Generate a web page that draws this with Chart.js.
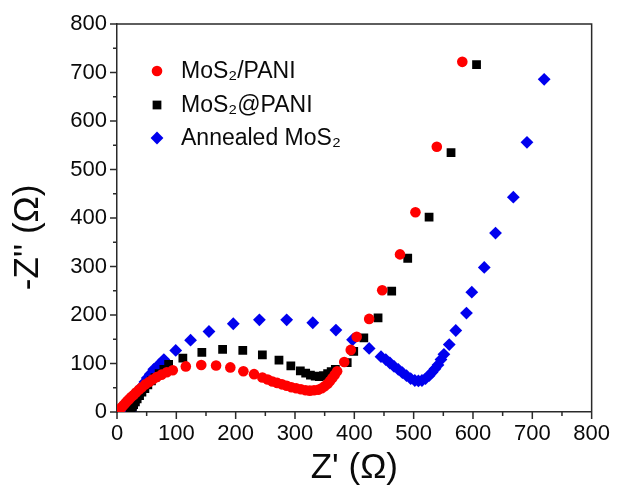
<!DOCTYPE html>
<html><head><meta charset="utf-8">
<script src="https://cdn.jsdelivr.net/npm/chart.js@4.4.0/dist/chart.umd.min.js"></script>
<style>html,body{margin:0;padding:0;background:#fff;}#wrap{width:619px;height:493px;}</style>
</head><body><div id="wrap"><canvas id="c" width="619" height="493"></canvas></div>
<script>
// ---- data (Z' in ohm, -Z'' in ohm) ----
const seriesNames = ['MoS\u2082/PANI', 'MoS\u2082@PANI', 'Annealed MoS\u2082'];

const panelX = [2,5,8,11,14,17,20,24,28,32,37,42,48,54,60,67,75,84,94,116,142,167,191,213,231,245,254,262,270,278,286,294,302,310,318,325,332,339,345,350,355,359,363,367,371,383,394,404,425,447,477,503,539,582];
const panelY = [2,6,10,14,18,22,26,31,35,40,46,51,57,62,67,72,77,82,86,94,97,96,92,84,78,71,67,63,60,57,54,51,49,47,45,44,45,46,49,53,58,64,70,77,84,103,128,155,192,251,325,412,547,722];

const atPaniX = [22,24,26,28,31,34,38,42,47,52,58,64,71,79,87,111,143,178,212,245,273,293,309,318,326,334,341,348,355,361,368,388,399,416,440,463,490,526,563,606];
const atPaniY = [1,5,10,15,21,27,34,41,48,56,64,71,79,88,98,111,123,129,127,118,107,95,85,80,76,74,73,75,79,83,88,102,125,153,194,249,317,402,535,716];

const annealX = [22,24,26,28,30,33,36,39,43,47,51,56,62,70,79,99,124,155,196,240,286,330,369,397,425,445,453,460,467,474,481,488,495,502,508,514,520,526,531,536,541,546,551,560,571,589,598,619,638,668,691,720];
const annealY = [1,7,13,19,25,32,39,46,54,62,70,78,88,97,108,127,148,166,182,190,190,184,169,149,131,114,108,101,94,88,81,75,69,65,64,65,69,75,82,89,97,108,119,139,168,204,247,298,369,443,556,686];

const xMin = 0, xMax = 800, yMin = 0, yMax = 800;
const majorStep = 100, minorStep = 50;

const colors = ['rgb(255,0,0)', 'rgb(0,0,0)', 'rgb(0,0,238)'];
const styles = ['circle', 'rect', 'rectRot'];
const radii = [5.3, 6.2, 6.4];

function pts(xs, ys) { return xs.map((x, i) => ({x: x, y: ys[i]})); }
const seriesPts = [pts(panelX, panelY), pts(atPaniX, atPaniY), pts(annealX, annealY)];

const FONT = "'Liberation Sans', Arial, Helvetica, sans-serif";
const AXIS = '#2a2a2a';
const TXT = '#0a0a0a';

const extras = {
  id: 'extras',
  afterDraw(chart) {
    const ctx = chart.ctx, a = chart.chartArea;
    const xs = chart.scales.x, ys = chart.scales.y;
    ctx.save();
    ctx.strokeStyle = AXIS;
    ctx.lineWidth = 1.5;
    ctx.beginPath();
    ctx.moveTo(a.left, a.top); ctx.lineTo(a.right, a.top); ctx.lineTo(a.right, a.bottom);
    ctx.stroke();
    ctx.beginPath();
    for (let v = xMin; v <= xMax; v += minorStep) {
      const len = v % majorStep === 0 ? 7 : 4;
      const px = xs.getPixelForValue(v);
      ctx.moveTo(px, a.bottom); ctx.lineTo(px, a.bottom + len);
    }
    for (let v = yMin; v <= yMax; v += minorStep) {
      const len = v % majorStep === 0 ? 7 : 4;
      const py = ys.getPixelForValue(v);
      ctx.moveTo(a.left, py); ctx.lineTo(a.left - len, py);
    }
    ctx.stroke();
    const lx = 157, tx = 181, rows = [71, 105, 138];
    chart.data.datasets.forEach((ds, i) => {
      ctx.fillStyle = ds.pointBackgroundColor;
      Chart.helpers.drawPoint(ctx, {pointStyle: ds.pointStyle, radius: ds.pointRadius, rotation: 0, borderWidth: 0}, lx, rows[i]);
      ctx.fillStyle = TXT;
      ctx.font = '23px ' + FONT;
      ctx.textBaseline = 'middle';
      ctx.textAlign = 'left';
      ctx.fillText(ds.label, tx, rows[i] + 1);
    });
    ctx.restore();
  }
};

new Chart(document.getElementById('c'), {
  type: 'scatter',
  data: {
    datasets: seriesNames.map((n, i) => ({
      label: n,
      data: seriesPts[i],
      pointStyle: styles[i],
      pointRadius: radii[i],
      pointHoverRadius: radii[i],
      pointBackgroundColor: colors[i],
      pointBorderWidth: 0,
      borderColor: colors[i],
      showLine: false
    }))
  },
  options: {
    responsive: false,
    devicePixelRatio: 1,
    animation: false,
    layout: {padding: {left: 0, top: 24, right: 25, bottom: 0}},
    plugins: {legend: {display: false}, tooltip: {enabled: false}},
    scales: {
      x: {
        type: 'linear', min: xMin, max: xMax,
        afterFit(s) { s.height = 81; },
        grid: {display: false, drawTicks: false},
        border: {display: true, color: AXIS, width: 1.5},
        ticks: {stepSize: majorStep, autoSkip: false, maxRotation: 0, padding: 9, color: TXT,
                font: {family: FONT, size: 22}},
        title: {display: true, text: "Z' (\u03A9)", color: TXT, font: {family: FONT, size: 35},
                padding: {top: 0, bottom: 4}}
      },
      y: {
        type: 'linear', min: yMin, max: yMax,
        afterFit(s) { s.width = 117; },
        grid: {display: false, drawTicks: false},
        border: {display: true, color: AXIS, width: 1.5},
        ticks: {stepSize: majorStep, autoSkip: false, padding: 10, color: TXT,
                font: {family: FONT, size: 22}},
        title: {display: true, text: "-Z'' (\u03A9)    ", color: TXT, font: {family: FONT, size: 35},
                padding: {top: 7, bottom: 0}}
      }
    }
  },
  plugins: [extras]
});
</script></body></html>
